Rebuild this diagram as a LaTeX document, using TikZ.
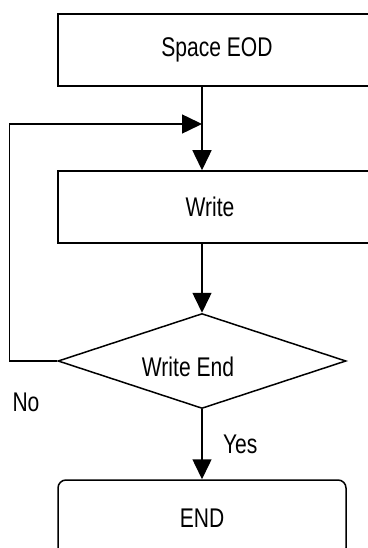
\documentclass[tikz,border=0pt]{standalone}
\usepackage{fontspec}
\setmainfont{Liberation Sans}
\usetikzlibrary{arrows.meta,shapes.geometric}

% narrow text, as in the drawing
\newcommand{\nar}[1]{\scalebox{0.78}[1]{#1}}

\tikzset{
  stepbox/.style={draw,rectangle,minimum height=72pt,inner sep=0pt},
  askbox/.style={draw,diamond,minimum width=288pt,minimum height=95pt,inner sep=0pt},
  endbox/.style={draw,rectangle,rounded corners=8pt,minimum width=288pt,minimum height=76pt,inner sep=0pt},
  txt/.style={font=\fontsize{27}{32}\selectfont}
}

\begin{document}
\begin{tikzpicture}[x=1pt,y=-1pt,line width=1.5pt,>={Triangle[length=20pt,width=19pt]},every node/.style={txt}]
\useasboundingbox (0,0) rectangle (367,548);
% boxes
\node[stepbox,minimum width=318pt] (eod) at (217,50) {\nar{Space EOD}};
\node[stepbox,minimum width=322pt,label={[txt,xshift=-9pt]center:\nar{Write}}] (wr) at (219,207) {};
\node[askbox,label={[txt,xshift=-14pt,yshift=-6pt]center:\nar{Write End}}] (dm) at (202,361) {};
\node[endbox] (fin) at (202,518) {\nar{END}};
% flow
\coordinate (merge) at (202,124);
\draw[->] (dm |- eod.south) -- (dm |- wr.north);
\draw[->] (dm |- wr.south) -- (dm.north);
\draw[->] (dm.south) -- (fin.north) node[midway,right=17pt] {\nar{Yes}};
% loop back
\draw[->] (dm.west) -- ++(-48,0) |- (merge);
\node (no) at (26,402) {\nar{No}};
\end{tikzpicture}
\end{document}
